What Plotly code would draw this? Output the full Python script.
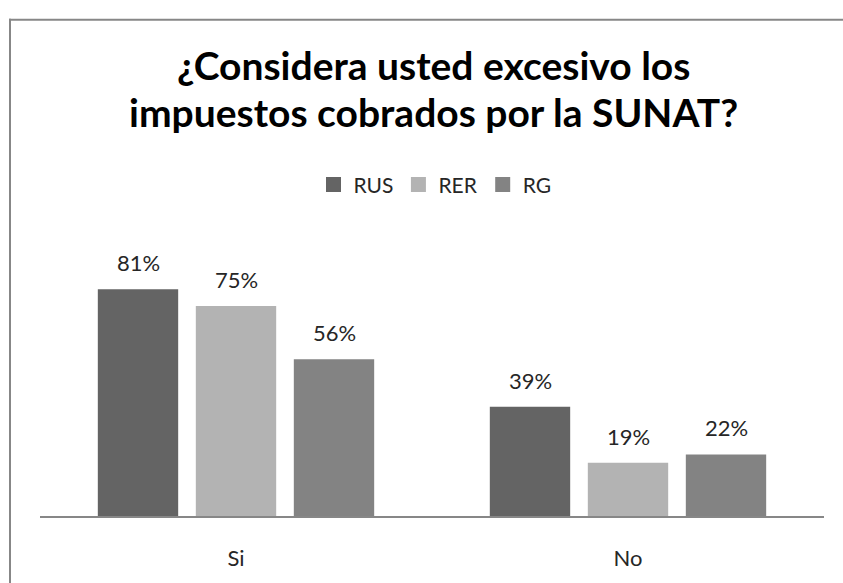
import plotly.graph_objects as go

categories = ["Si", "No"]
series_names = ["RUS", "RER", "RG"]
rus = [81, 39]
rer = [75, 19]
rg = [56, 22]
title_lines = ["¿Considera usted excesivo los", "impuestos cobrados por la SUNAT?"]
colors = ["#646464", "#b3b3b3", "#838383"]

W, H = 843, 583
L, T = 40, 264
R = W - 824
B = H - 522
bargap, bargroupgap = 0.25, 0.18
FONT = "Lato"

fig = go.Figure()
for name, vals, c in zip(series_names, [rus, rer, rg], colors):
    fig.add_trace(go.Bar(
        x=categories, y=vals, name=name, showlegend=False,
        marker=dict(color=c, line=dict(width=0)),
    ))
    fig.add_trace(go.Scatter(
        x=[None], y=[None], mode="markers", name=name,
        marker=dict(symbol="square", size=15, color=c),
    ))

pw, ph = W - L - R, H - T - B
slot = (pw / len(categories)) * (1 - bargap) / len(series_names)


def px(x):
    return (x - L) / pw


def py(y):
    return (H - B - y) / ph


annotations = []
for i, vals in enumerate([rus, rer, rg]):
    for cat, v in zip(categories, vals):
        annotations.append(dict(
            x=cat, y=v, xref="x", yref="y", text=f"{v}%", showarrow=False,
            xanchor="center", yanchor="bottom", xshift=(i - 1) * slot, yshift=11,
            font=dict(size=22, family=FONT, color="#262626"),
        ))
for line, yc in zip(title_lines, [60, 108]):
    annotations.append(dict(
        x=px(433), y=py(yc), xref="paper", yref="paper",
        text=f"<b>{line}</b>", showarrow=False, xanchor="center", yanchor="middle",
        font=dict(size=39, family=FONT, color="#000000"),
    ))

fig.update_layout(
    width=W, height=H,
    margin=dict(l=L, r=R, t=T, b=B),
    paper_bgcolor="white", plot_bgcolor="white",
    barmode="group", bargap=bargap, bargroupgap=bargroupgap,
    font=dict(family=FONT, color="#262626"),
    legend=dict(
        orientation="h", x=px(435), xanchor="center", y=py(183), yanchor="middle",
        font=dict(size=21, family=FONT, color="#262626"), itemwidth=30, traceorder="normal",
    ),
    xaxis=dict(
        showline=True, linecolor="#878787", linewidth=2, ticks="",
        tickfont=dict(size=22, family=FONT, color="#262626"), ticklabelstandoff=22,
        showgrid=False, zeroline=False,
    ),
    yaxis=dict(range=[0, 90], visible=False, showgrid=False),
    annotations=annotations,
    shapes=[
        dict(type="line", xref="paper", yref="paper", x0=px(9), x1=px(850), y0=py(14), y1=py(14),
             line=dict(color="#878787", width=2)),
        dict(type="line", xref="paper", yref="paper", x0=px(10), x1=px(10), y0=py(13), y1=py(600),
             line=dict(color="#878787", width=2)),
    ],
)

fig.write_html(
    "out.html",
    config={"displayModeBar": False},
    post_script="document.body.style.margin='0';document.body.style.overflow='hidden';",
)
